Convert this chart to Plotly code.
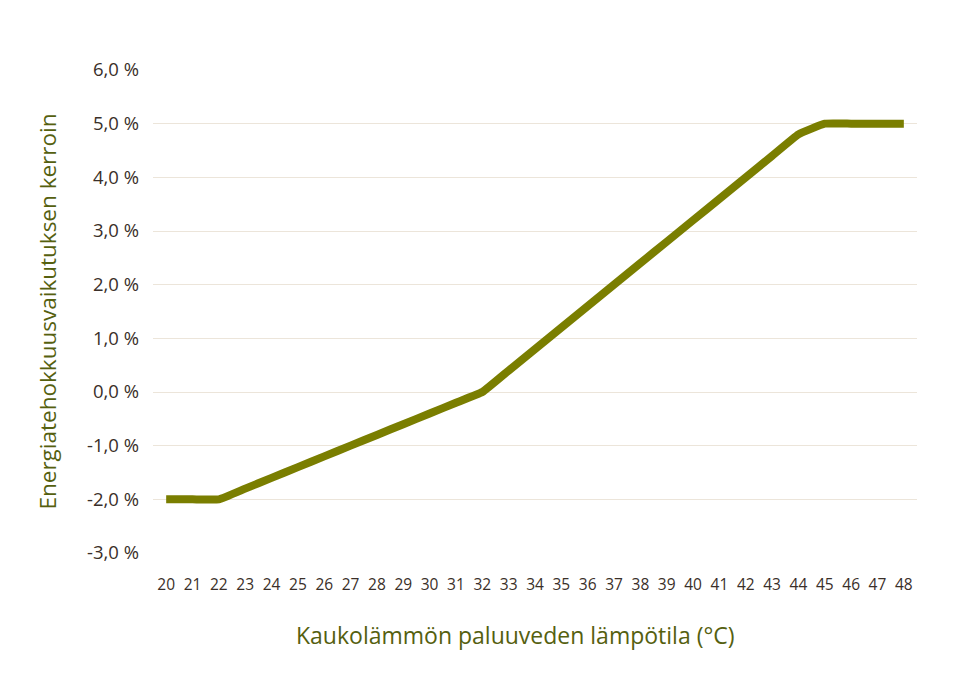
import plotly.graph_objects as go

# paluuveden lämpötila (°C) ja energiatehokkuusvaikutuksen kerroin (%)
temps = [str(t) for t in range(20, 49)]
kerroin = [-2.0, -2.0, -2.0, -1.8, -1.6, -1.4, -1.2, -1.0, -0.8, -0.6, -0.4, -0.2,
           0.0, 0.4, 0.8, 1.2, 1.6, 2.0, 2.4, 2.8, 3.2, 3.6, 4.0, 4.4, 4.8,
           5.0, 5.0, 5.0, 5.0]
y_ticks = [-3, -2, -1, 0, 1, 2, 3, 4, 5, 6]
y_labels = ["-3,0 %", "-2,0 %", "-1,0 %", "0,0 %", "1,0 %", "2,0 %",
            "3,0 %", "4,0 %", "5,0 %", "6,0 %"]

text_col = "#3a2f29"
title_col = "#55600f"
grid_col = "#ece5da"

fig = go.Figure(go.Scatter(
    x=temps, y=kerroin, mode="lines",
    line=dict(color="#7a7e00", width=8, shape="spline", smoothing=0.3),
    hoverinfo="x+y"))

fig.update_layout(
    width=960, height=693,
    margin=dict(l=145, r=51, t=62, b=148),
    plot_bgcolor="white", paper_bgcolor="white",
    font=dict(family="Open Sans, sans-serif", color=text_col, size=15),
    showlegend=False,
    xaxis=dict(type="category", range=[-0.5, 28.5], showgrid=False,
               zeroline=False, showline=False, ticks="",
               ticklabelstandoff=20, tickfont=dict(size=15.5)),
    yaxis=dict(range=[-3, 6], tickvals=y_ticks, ticktext=y_labels,
               showgrid=True, gridcolor=grid_col, gridwidth=1.3,
               zeroline=False, showline=False, ticks="",
               ticklabelstandoff=13, tickfont=dict(size=18.5),
               title=dict(text="Energiatehokkuusvaikutuksen kerroin",
                          font=dict(size=22.5, color=title_col), standoff=24)),
    annotations=[dict(text="Kaukolämmön paluuveden lämpötila (°C)",
                      xref="paper", yref="paper", x=0.474, y=-0.17,
                      xanchor="center", yanchor="middle", showarrow=False,
                      font=dict(size=23, color=title_col))],
)

fig.write_html("out.html")
